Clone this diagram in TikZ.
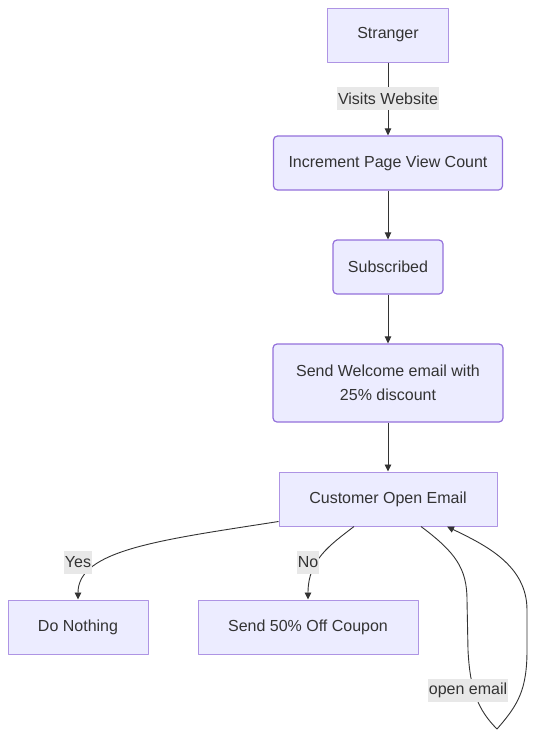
\documentclass[tikz,border=0pt]{standalone}
\usepackage{fontspec}
\setmainfont{Liberation Sans}
\usetikzlibrary{arrows.meta}
\definecolor{boxfill}{HTML}{ECECFF}
\definecolor{boxline}{HTML}{9370DB}
\definecolor{edgeline}{HTML}{333333}
\definecolor{lblfill}{HTML}{E8E8E8}
\begin{document}
\begin{tikzpicture}[x=1pt,y=-1pt,line join=round,>={Triangle[length=7pt,width=6.5pt]}]
	\tikzset{every node/.style={font=\fontsize{16}{24}\selectfont,text=edgeline},
		sqbox/.style={draw=boxline!75,fill=boxfill,line width=1pt,minimum height=54pt,inner sep=0pt},
		rdbox/.style={sqbox,draw=boxline,line width=1.2pt,rounded corners=4pt},
		lbl/.style={fill=lblfill,inner xsep=1pt,inner ysep=0pt,minimum height=23pt},
		edge/.style={draw=edgeline,line width=0.9pt}}
	\def\cx{388}
	\useasboundingbox (0,0) rectangle (535,736);
	% main column
	\node[sqbox,minimum width=121pt] (stranger) at (\cx,35) {Stranger};
	\node[rdbox,minimum width=229pt] (incr) at (\cx,163) {Increment Page View Count};
	\node[rdbox,minimum width=110pt] (subs) at (\cx,267) {Subscribed};
	\node[rdbox,minimum width=230pt,minimum height=78pt,align=center] (welcome) at (\cx,383) {Send Welcome email with\\25\% discount};
	\node[sqbox,minimum width=218pt] (cust) at (\cx,499) {Customer Open Email};
	% bottom row
	\node[sqbox,minimum width=140pt] (nothing) at (78,627) {Do Nothing};
	\node[sqbox,minimum width=220pt] (coupon) at (308,627) {Send 50\% Off Coupon};
	\coordinate (tip) at (497,729);
	\draw[edge,->] (stranger) -- (incr);
	\draw[edge,->] (incr) -- (subs);
	\draw[edge,->] (subs) -- (welcome);
	\draw[edge,->] (welcome) -- (cust);
	\draw[edge,->] ([yshift=5pt]cust.south west) .. controls (160,540) and (78,550) .. (nothing.north);
	\draw[edge,->] ([xshift=-34pt]cust.south) .. controls (330,545) and (308,560) .. (coupon.north);
	\draw[edge,->] ([xshift=33pt]cust.south) .. controls (455,552) and (467,568) .. (467,600) -- (468,650)
		.. controls (470,690) and (478,710) .. (tip) .. controls (518,705) and (527,690) .. (527,650) -- (527,610)
		.. controls (527,565) and (485,545) .. ([xshift=59pt]cust.south);
	% edge labels
	\node[lbl] (visits) at (\cx,98.5) {Visits Website};
	\node[lbl] (yes) at (78,562.5) {Yes};
	\node[lbl] (no) at (308,562.5) {No};
	\node[lbl] (again) at (468,690.5) {open email};
\end{tikzpicture}
\end{document}
